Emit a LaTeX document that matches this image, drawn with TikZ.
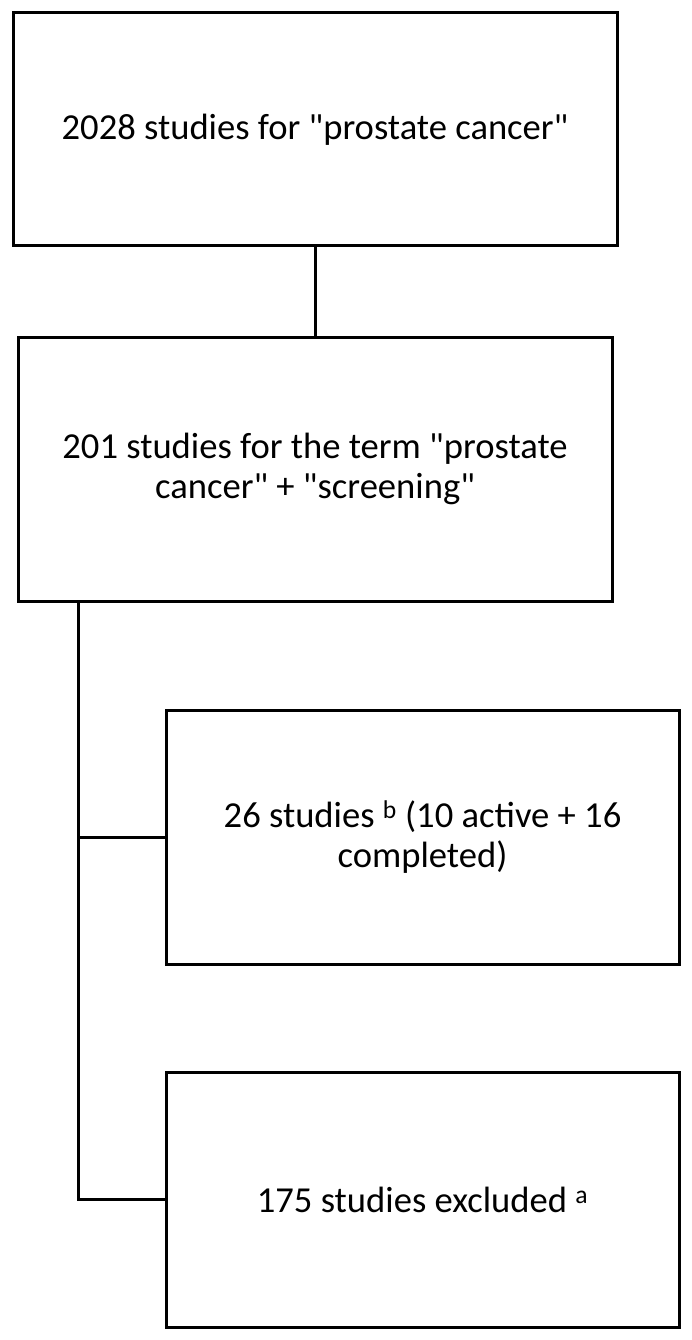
\documentclass[tikz,border=0pt]{standalone}
\usepackage{fontspec}
\setmainfont{Carlito}[Ligatures=TeXOff]
\begin{document}
\begin{tikzpicture}[x=1pt,y=-1pt,
  box/.style={draw=black,line width=3pt,inner sep=0pt,outer sep=0pt,align=center,
    font=\fontsize{36.6}{40}\selectfont},
  conn/.style={draw=black,line width=3pt}]
\useasboundingbox[fill=white] (0,0) rectangle (691,1340);
\node[box,minimum width=604pt,minimum height=233pt] (b1) at (315,129.5) {2028 studies for "prostate cancer"};
\node[box,minimum width=594pt,minimum height=264pt] (b2) at (315,469) {201 studies for the term "prostate\\cancer" + "screening"};
\node[box,minimum width=513pt,minimum height=254pt] (b3) at (422.5,837) {26 studies \textsuperscript{b} (10 active + 16\\completed)};
\node[box,minimum width=513pt,minimum height=255pt] (b4) at (422.5,1199.5) {175 studies excluded \textsuperscript{a}};
\coordinate (j) at (78,601);
\draw[conn] (b1.south) -- (b2.north);
\draw[conn] (j) |- (b3.west);
\draw[conn] (j) |- (b4.west);
\end{tikzpicture}
\end{document}
